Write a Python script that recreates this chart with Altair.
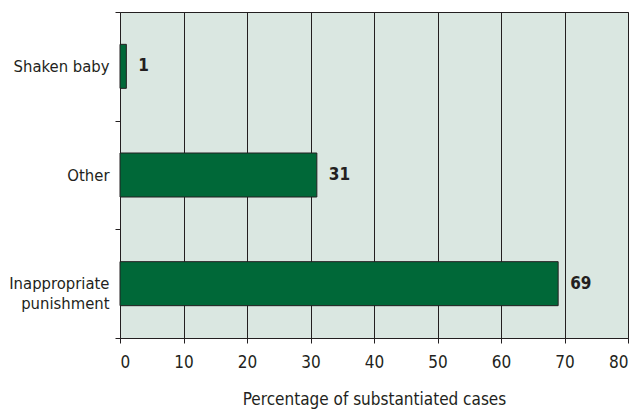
import altair as alt
import pandas as pd

categories = ["Shaken baby", "Other", "Inappropriate punishment"]
values = [1, 31, 69]
x_ticks = [0, 10, 20, 30, 40, 50, 60, 70, 80]

df = pd.DataFrame({"cat": categories, "pct": values})

FONT = "DejaVu Sans Condensed, Liberation Sans Narrow, Roboto, sans-serif"
INK = "#231f20"
FS = 17

y_enc = alt.Y(
    "cat:N",
    sort=categories,
    title=None,
    scale=alt.Scale(paddingInner=0, paddingOuter=0),
    axis=alt.Axis(
        tickBand="extent",
        tickSize=5,
        tickColor=INK,
        domain=False,
        labelPadding=6,
        labelFontSize=16.5,
        labelFont=FONT,
        labelColor=INK,
        labelLineHeight=20,
        labelExpr="datum.label == 'Inappropriate punishment' ? ['Inappropriate', 'punishment'] : datum.label",
        grid=False,
    ),
)

x_enc = alt.X(
    "pct:Q",
    title="Percentage of substantiated cases",
    scale=alt.Scale(domain=[0, 80], nice=False),
    axis=alt.Axis(
        values=x_ticks,
        grid=True,
        gridColor=INK,
        gridOpacity=1,
        gridWidth=1,
        tickSize=5,
        tickColor=INK,
        domainColor=INK,
        labelFontSize=FS,
        labelFont=FONT,
        labelColor=INK,
        labelPadding=11,
        titleFontSize=FS,
        titleFont=FONT,
        titleColor=INK,
        titleFontWeight="normal",
        titlePadding=21,
    ),
)

bars = alt.Chart(df).mark_bar(
    size=44, color="#006838", stroke=INK, strokeWidth=1
).encode(x=x_enc, y=y_enc)

labels = alt.Chart(df).mark_text(
    align="left", baseline="middle", dx=12, fontSize=FS, fontWeight="bold",
    font=FONT, color=INK
).encode(x="pct:Q", y=alt.Y("cat:N", sort=categories), text="pct:Q")

chart = (
    alt.layer(bars, labels)
    .properties(
        width=508,
        height=326,
        autosize=alt.AutoSizeParams(type="none"),
        padding={"left": 112, "top": 4, "right": 4, "bottom": 72},
        background="white",
    )
    .configure_view(fill="#dae7e1", stroke=INK, strokeWidth=1)
)

chart.save("out.html", embed_options={"renderer": "svg", "actions": False})
